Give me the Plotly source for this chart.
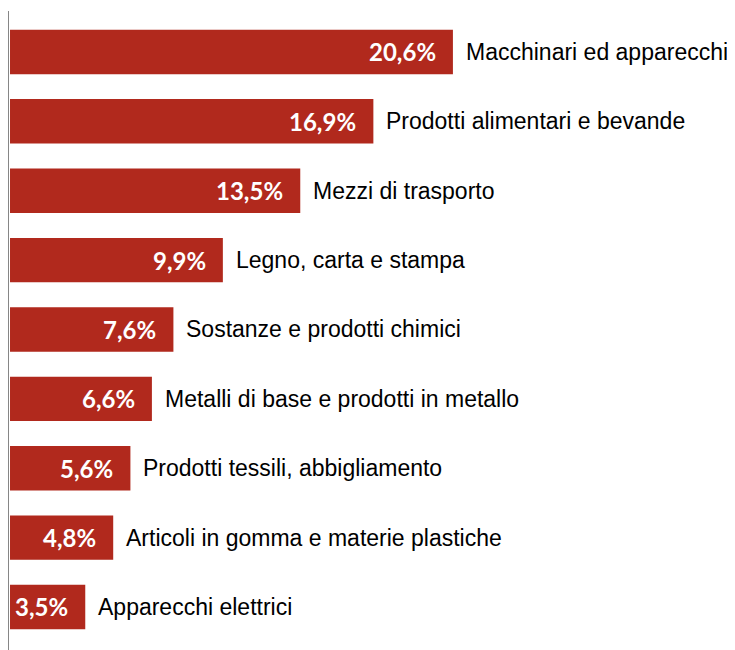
import plotly.graph_objects as go

categories = [
    "Macchinari ed apparecchi",
    "Prodotti alimentari e bevande",
    "Mezzi di trasporto",
    "Legno, carta e stampa",
    "Sostanze e prodotti chimici",
    "Metalli di base e prodotti in metallo",
    "Prodotti tessili, abbigliamento",
    "Articoli in gomma e materie plastiche",
    "Apparecchi elettrici",
]
values = [20.6, 16.9, 13.5, 9.9, 7.6, 6.6, 5.6, 4.8, 3.5]
value_labels = ["20,6%", "16,9%", "13,5%", "9,9%", "7,6%", "6,6%", "5,6%", "4,8%", "3,5%"]

BAR_COLOR = "#B1291D"

fig = go.Figure()
fig.add_trace(go.Bar(
    x=values,
    y=categories,
    orientation="h",
    marker=dict(color=BAR_COLOR, line=dict(width=0)),
    width=0.64,
    hoverinfo="skip",
))

annotations = []
for cat, v, lab in zip(categories, values, value_labels):
    annotations.append(dict(
        x=v, y=cat, xref="x", yref="y", text=f"<b>{lab}</b>",
        showarrow=False, xanchor="right", yanchor="middle", xshift=-15,
        font=dict(family="Lato, 'Open Sans', sans-serif", size=24, color="white"),
    ))
    annotations.append(dict(
        x=v, y=cat, xref="x", yref="y", text=cat,
        showarrow=False, xanchor="left", yanchor="middle", xshift=11,
        font=dict(family="Arial, 'Liberation Sans', sans-serif", size=23, color="black"),
    ))

# the page body adds an 8px margin, so the figure is sized to the visible area
fig.update_layout(
    width=727, height=642,
    margin=dict(l=1, r=0, t=3, b=0, autoexpand=False),
    paper_bgcolor="white", plot_bgcolor="white",
    showlegend=False,
    annotations=annotations,
    xaxis=dict(range=[-0.047, 33.72], visible=False, showgrid=False,
               zeroline=False, automargin=False),
    yaxis=dict(
        type="category",
        categoryorder="array", categoryarray=categories,
        range=[8.62, -0.59],
        showticklabels=False, ticks="", showgrid=False, zeroline=False,
        showline=True, linecolor="#868686", linewidth=2, automargin=False,
    ),
)

fig.write_html("out.html")
